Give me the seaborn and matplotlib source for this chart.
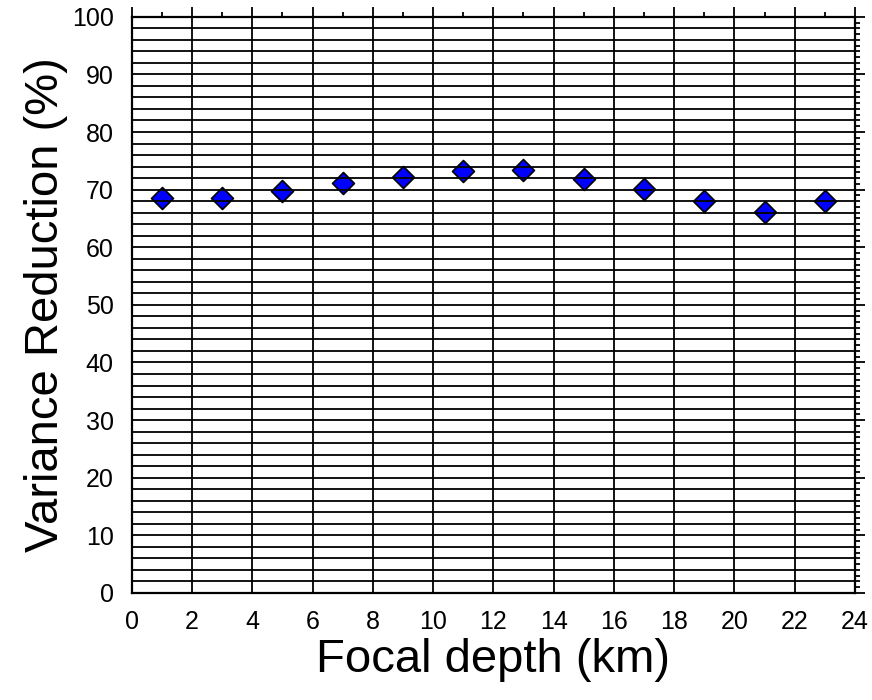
import pandas as pd
import numpy as np
import seaborn as sns
import matplotlib.pyplot as plt
from matplotlib.ticker import MultipleLocator, FuncFormatter

# focal depth (km) and variance reduction (%)
depth = [1, 3, 5, 7, 9, 11, 13, 15, 17, 19, 21, 23]
vr = [68.6, 68.5, 69.7, 71.1, 72.2, 73.3, 73.4, 71.8, 70.1, 68.1, 66.2, 68.1]

x_ticks = list(range(0, 25, 2))
y_ticks = list(range(0, 101, 10))

df = pd.DataFrame({"depth": depth, "vr": vr})

sns.set_style("white")
plt.rcParams['font.family'] = ['Liberation Sans', 'DejaVu Sans']
plt.rcParams.update({"text.color": "black", "axes.labelcolor": "black",
                     "xtick.color": "black", "ytick.color": "black"})

fig = plt.figure(figsize=(8.72, 7), dpi=100)
ax = fig.add_axes([0.151, 0.153, 0.8295, 0.823])

sns.scatterplot(data=df, x="depth", y="vr", marker="D", s=125, color="#0000ff",
                edgecolor="black", linewidth=1.2, ax=ax, zorder=1)

ax.set_xlim(0, 24)
ax.set_ylim(0, 100)

# gmt style frame: ticks out on every side, labels only left / bottom
ax.xaxis.set_major_locator(MultipleLocator(2))
ax.xaxis.set_minor_locator(MultipleLocator(1))
ax.yaxis.set_major_locator(MultipleLocator(2))
ax.yaxis.set_minor_locator(MultipleLocator(1))
ax.yaxis.set_major_formatter(FuncFormatter(lambda v, p: "%d" % v if int(round(v)) % 10 == 0 else ""))

ax.grid(True, which="major", color="black", linewidth=1.3)
ax.set_axisbelow(False)

ax.tick_params(which="both", direction="out", top=True, right=True,
               labeltop=False, labelright=False, color="black", width=1.3)
ax.tick_params(which="major", length=7, labelsize=18)
ax.tick_params(axis="x", which="major", pad=5)
ax.tick_params(axis="y", which="major", pad=6)
ax.tick_params(which="minor", length=3.6)

fig.canvas.draw()
# only the multiples of 10 get long ticks on the y axis
yt = ax.get_yticks()
for t, v in zip(ax.yaxis.get_major_ticks(len(yt)), yt):
    if int(round(v)) % 10 != 0:
        t.tick1line.set_markersize(3.6)
        t.tick2line.set_markersize(3.6)

for s in ax.spines.values():
    s.set_linewidth(1.6)
    s.set_color("black")

ax.set_xlabel("Focal depth (km)", fontsize=34, labelpad=3)
ax.set_ylabel("Variance Reduction (%)", fontsize=34, labelpad=3)

plt.savefig("out.png", dpi=100)
plt.close()
